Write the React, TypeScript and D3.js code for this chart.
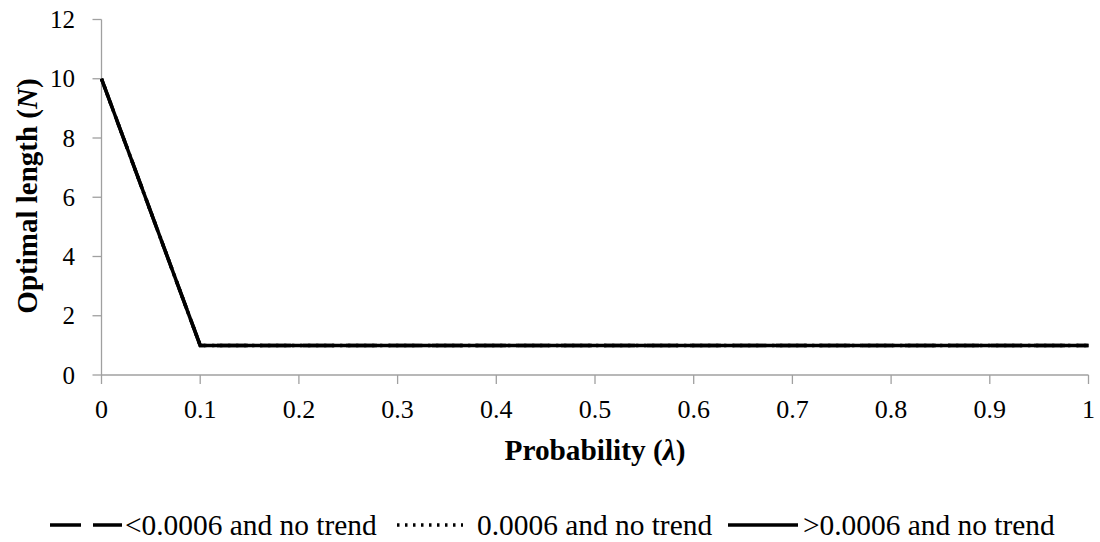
import React from "react";
import * as d3 from "d3";

const xValues = [0, 0.1, 0.2, 0.3, 0.4, 0.5, 0.6, 0.7, 0.8, 0.9, 1];
const seriesLess = [10, 1, 1, 1, 1, 1, 1, 1, 1, 1, 1];
const seriesEqual = [10, 1, 1, 1, 1, 1, 1, 1, 1, 1, 1];
const seriesGreater = [10, 1, 1, 1, 1, 1, 1, 1, 1, 1, 1];
const yTicks = [0, 2, 4, 6, 8, 10, 12];
const xTicks = [0, 0.1, 0.2, 0.3, 0.4, 0.5, 0.6, 0.7, 0.8, 0.9, 1];
const legendLabels = ["<0.0006 and no trend", "0.0006 and no trend", ">0.0006 and no trend"];

const W = 1100, H = 542;
const FONT = "'Liberation Serif', 'Times New Roman', serif";

export default function App() {
  const x = d3.scaleLinear().domain([0, 1]).range([101.5, 1088.5]);
  const y = d3.scaleLinear().domain([0, 12]).range([375, 19.5]);
  const line = d3.line<number>().x((_, i) => x(xValues[i])).y((d) => y(d));
  const axisColor = "#a0a0a0";
  const series = [
    { data: seriesLess, dash: "31,12" },
    { data: seriesEqual, dash: "2.5,5.5" },
    { data: seriesGreater, dash: undefined as string | undefined },
  ];
  const legendItems = [
    { x1: 50, x2: 122, tx: 125, dash: "31,12", label: legendLabels[0] },
    { x1: 397, x2: 463, tx: 477, dash: "2.5,5.5", label: legendLabels[1] },
    { x1: 728, x2: 798, tx: 803, dash: undefined as string | undefined, label: legendLabels[2] },
  ];
  return (
    <svg width={W} height={H} style={{ position: "absolute", left: 0, top: 0, background: "#fff" }}>
      <line x1={x(0)} x2={x(0)} y1={y(12)} y2={y(0)} stroke={axisColor} strokeWidth={1.3} />
      <line x1={x(0)} x2={x(1)} y1={y(0)} y2={y(0)} stroke={axisColor} strokeWidth={1.3} />
      {yTicks.map((t) => (
        <g key={"y" + t}>
          <line x1={x(0) - 9} x2={x(0)} y1={y(t)} y2={y(t)} stroke={axisColor} strokeWidth={1.3} />
          <text x={75} y={y(t) + 8.5} textAnchor="end" fontFamily={FONT} fontSize={25} fill="#000">{t}</text>
        </g>
      ))}
      {xTicks.map((t) => (
        <g key={"x" + t}>
          <line x1={x(t)} x2={x(t)} y1={y(0)} y2={y(0) + 9} stroke={axisColor} strokeWidth={1.3} />
          <text x={x(t)} y={418} textAnchor="middle" fontFamily={FONT} fontSize={26} fill="#000">{String(t)}</text>
        </g>
      ))}
      {series.map((s, i) => (
        <path key={i} d={line(s.data) || ""} fill="none" stroke="#000" strokeWidth={3.5} strokeDasharray={s.dash} />
      ))}
      <text x={595} y={460} textAnchor="middle" fontFamily={FONT} fontSize={29.3} fontWeight="bold" fill="#000">
        Probability (<tspan fontStyle="italic">λ</tspan>)
      </text>
      <text transform="translate(37,196) rotate(-90)" textAnchor="middle" fontFamily={FONT} fontSize={29} fontWeight="bold" fill="#000">
        Optimal length (<tspan fontStyle="italic">N</tspan>)
      </text>
      {legendItems.map((l, i) => (
        <g key={"l" + i}>
          <line x1={l.x1} x2={l.x2} y1={525} y2={525} stroke="#000" strokeWidth={3.5} strokeDasharray={l.dash} />
          <text x={l.tx} y={535} fontFamily={FONT} fontSize={29.4} fill="#000">{l.label}</text>
        </g>
      ))}
    </svg>
  );
}
